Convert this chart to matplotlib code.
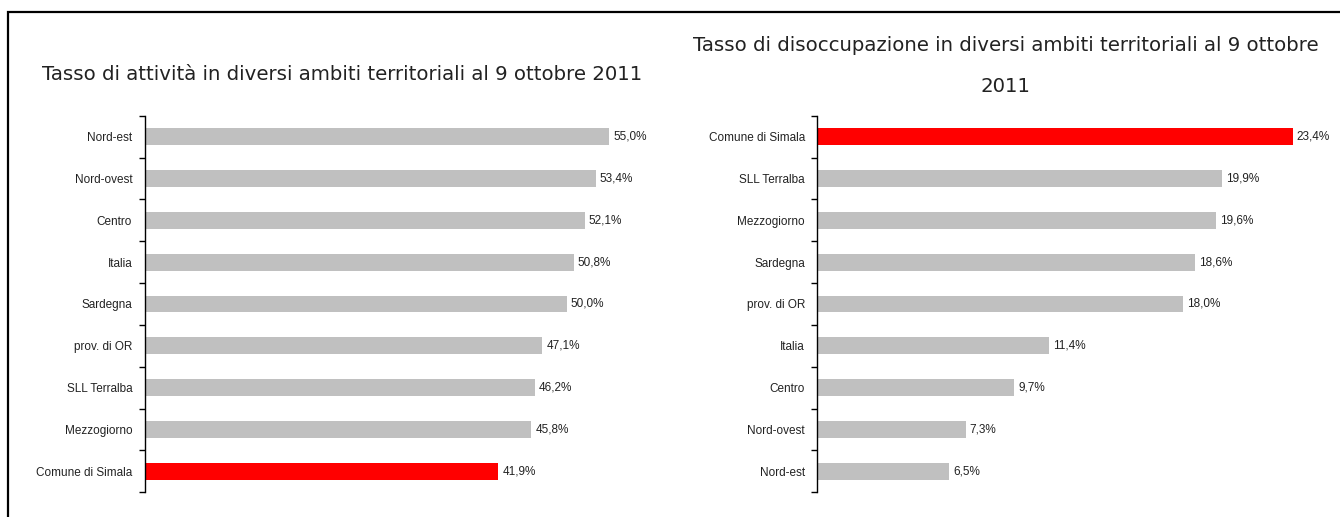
import matplotlib.pyplot as plt
import matplotlib.patches as patches
import numpy as np

# left chart: activity rate
att_labels = ["Nord-est", "Nord-ovest", "Centro", "Italia", "Sardegna",
              "prov. di OR", "SLL Terralba", "Mezzogiorno", "Comune di Simala"]
att_values = [55.0, 53.4, 52.1, 50.8, 50.0, 47.1, 46.2, 45.8, 41.9]

# right chart: unemployment rate
dis_labels = ["Comune di Simala", "SLL Terralba", "Mezzogiorno", "Sardegna",
              "prov. di OR", "Italia", "Centro", "Nord-ovest", "Nord-est"]
dis_values = [23.4, 19.9, 19.6, 18.6, 18.0, 11.4, 9.7, 7.3, 6.5]

highlight = "Comune di Simala"
title_att = "Tasso di attività in diversi ambiti territoriali al 9 ottobre 2011"
title_dis = "Tasso di disoccupazione in diversi ambiti territoriali al 9 ottobre\n2011"

plt.rcParams["font.family"] = ["Liberation Sans", "DejaVu Sans"]

fig = plt.figure(figsize=(13.4, 5.17), dpi=100)


def draw_bars(ax, labels, values, xmax):
    n = len(labels)
    y = np.arange(n)
    colors = ["#ff0000" if l == highlight else "#c0c0c0" for l in labels]
    ax.barh(y, values, height=0.4, color=colors)
    for yi, v in zip(y, values):
        ax.text(v + xmax * 0.008, yi, f"{v:.1f}%".replace(".", ","),
                va="center", ha="left", fontsize=8.5, color="#222222")
    ax.set_ylim(n - 0.5, -0.5)
    ax.set_xlim(0, xmax)
    ax.set_yticks(y)
    ax.set_yticklabels(labels, fontsize=8.5, color="#222222")
    ax.set_yticks(np.arange(n + 1) - 0.5, minor=True)
    ax.tick_params(axis="y", which="major", length=0, pad=9)
    ax.tick_params(axis="y", which="minor", length=4, width=1, direction="out")
    for s in ["top", "right", "bottom"]:
        ax.spines[s].set_visible(False)
    ax.spines["left"].set_linewidth(1)
    ax.set_xticks([])


ax1 = fig.add_axes([0.108, 0.048, 0.378, 0.728])
draw_bars(ax1, att_labels, att_values, 60)

ax2 = fig.add_axes([0.610, 0.048, 0.379, 0.728])
draw_bars(ax2, dis_labels, dis_values, 25)

fig.text(0.255, 0.855, title_att, ha="center", va="center",
         fontsize=14.2, color="#222222", family=["DejaVu Sans"])
fig.text(0.7505, 0.872, title_dis, ha="center", va="center",
         fontsize=14.2, color="#222222", family=["DejaVu Sans"], linespacing=2.5)

# outer frame (cut at right and bottom like the source)
frame = patches.Rectangle((8 / 1340, -0.1), 1.2, 1 - 12 / 517 + 0.1,
                          transform=fig.transFigure, fill=False,
                          edgecolor="black", linewidth=1.6)
fig.patches.append(frame)

fig.savefig("out.png", dpi=100)
